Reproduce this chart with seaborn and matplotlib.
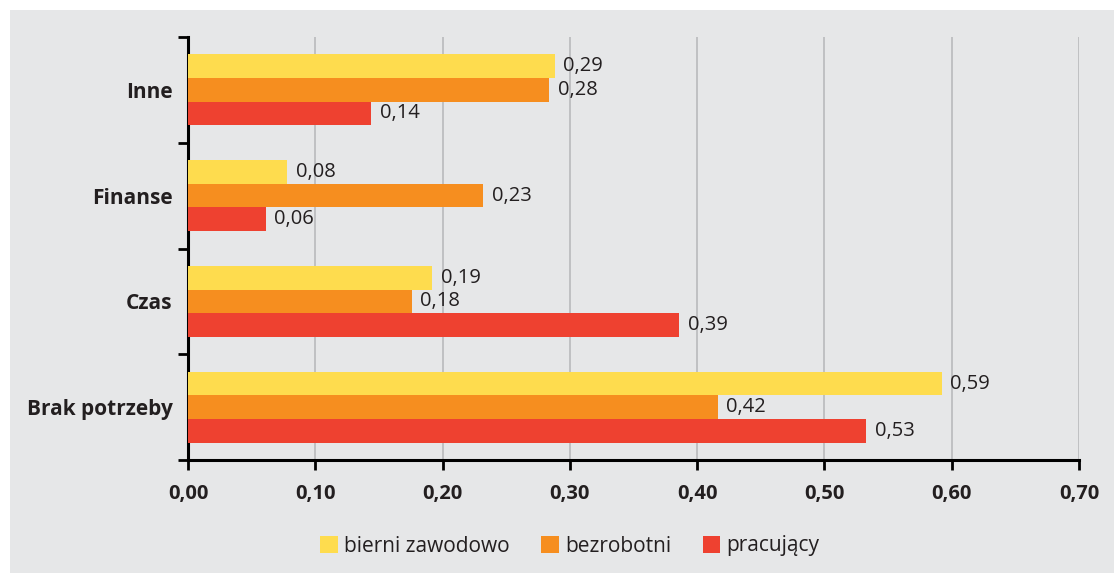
import numpy as np
import pandas as pd
import seaborn as sns
from matplotlib import pyplot as plt
from matplotlib.patches import Rectangle

# data
categories = ["Inne", "Finanse", "Czas", "Brak potrzeby"]
groups = ["bierni zawodowo", "bezrobotni", "pracujący"]
bierni = [0.288, 0.078, 0.192, 0.592]
bezrobotni = [0.284, 0.232, 0.176, 0.416]
pracujacy = [0.144, 0.061, 0.386, 0.533]
x_ticks = [0.0, 0.1, 0.2, 0.3, 0.4, 0.5, 0.6, 0.7]

colors = ["#FEDC4E", "#F68E1F", "#EE4130"]
bg = "#E6E7E8"

df = pd.DataFrame({
    "kategoria": categories * 3,
    "grupa": np.repeat(groups, len(categories)),
    "wartosc": bierni + bezrobotni + pracujacy,
})

sns.set_style("white")
plt.rcParams["font.family"] = ["Open Sans", "DejaVu Sans"]

fig = plt.figure(figsize=(11.14, 5.75), dpi=100, facecolor="white")
# grey panel with a thin white margin on the top and left
fig.patches.append(Rectangle((10 / 1114, 2 / 575), 1, (575 - 12) / 575,
                             transform=fig.transFigure, facecolor=bg,
                             edgecolor="none", zorder=-10))
ax = fig.add_axes([188 / 1114, 1 - 460 / 575, (1079 - 188) / 1114, (460 - 37) / 575])
ax.set_facecolor("none")

sns.barplot(data=df, y="kategoria", x="wartosc", hue="grupa", order=categories,
            hue_order=groups, palette=colors, orient="h", width=0.67,
            errorbar=None, saturation=1, linewidth=0, edgecolor="none",
            ax=ax, zorder=3)

for cont in ax.containers:
    labels = [f"{b.get_width():.2f}".replace(".", ",") for b in cont]
    ax.bar_label(cont, labels=labels, padding=6, fontsize=14.5, color="#231F20")

ax.set_xlim(0, 0.7)
ax.set_ylim(3.5, -0.5)
ax.set_xticks(x_ticks)
ax.set_xticklabels([f"{t:.2f}".replace(".", ",") for t in x_ticks],
                   fontsize=14.5, fontweight="bold", color="#231F20")
ax.set_yticks(range(len(categories)))
ax.set_yticklabels(categories, fontsize=15, fontweight="bold", color="#231F20")
ax.set_yticks(np.arange(-0.5, len(categories), 1), minor=True)
ax.tick_params(axis="y", which="major", left=True, length=0, pad=11)
ax.tick_params(axis="y", which="minor", left=True, length=7, width=2,
               color="black", direction="out")
ax.tick_params(axis="x", which="major", bottom=True, length=7, width=2,
               color="black", direction="out", pad=10)
ax.set_xlabel("")
ax.set_ylabel("")

ax.grid(axis="x", color="#BCBEC0", linewidth=1.3, zorder=0)
ax.grid(axis="y", visible=False)
for s in ["top", "right"]:
    ax.spines[s].set_visible(False)
for s in ["left", "bottom"]:
    ax.spines[s].set_linewidth(2.2)
    ax.spines[s].set_color("black")

ax.legend(loc="center", bbox_to_anchor=(570 / 1114, 1 - 546 / 575),
          bbox_transform=fig.transFigure, ncol=3, frameon=False,
          fontsize=15, handlelength=0.85, handleheight=0.85,
          handletextpad=0.3, columnspacing=1.5, labelcolor="#231F20")

fig.savefig("out.png", dpi=100, facecolor="white")
